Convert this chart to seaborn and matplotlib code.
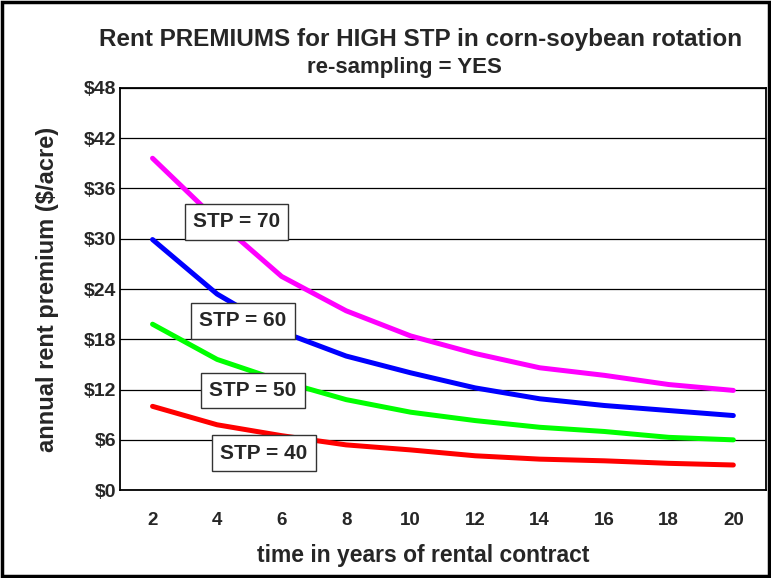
import numpy as np
import pandas as pd
import seaborn as sns
import matplotlib.pyplot as plt
from matplotlib.patches import Rectangle

years = [2, 4, 6, 8, 10, 12, 14, 16, 18, 20]
stp_70 = [39.6, 32.2, 25.5, 21.4, 18.4, 16.3, 14.6, 13.7, 12.6, 11.9]
stp_60 = [29.9, 23.4, 18.9, 16.0, 14.0, 12.2, 10.9, 10.1, 9.5, 8.9]
stp_50 = [19.8, 15.6, 13.0, 10.8, 9.3, 8.3, 7.5, 7.0, 6.3, 6.0]
stp_40 = [10.0, 7.8, 6.5, 5.4, 4.8, 4.1, 3.7, 3.5, 3.2, 3.0]
series_names = ["STP = 70", "STP = 60", "STP = 50", "STP = 40"]
colors = ["#FF00FF", "#0000FF", "#00FF00", "#FF0000"]
label_pos = [(4.6, 32.0), (4.8, 20.2), (5.1, 11.9), (5.45, 4.4)]
y_ticks = [0, 6, 12, 18, 24, 30, 36, 42, 48]

df = pd.DataFrame({
    "year": years * 4,
    "premium": stp_70 + stp_60 + stp_50 + stp_40,
    "series": np.repeat(series_names, len(years)),
})

sns.set_style("white")
plt.rcParams['font.family'] = ['Liberation Sans', 'DejaVu Sans']
plt.rcParams['font.weight'] = 'bold'

fig = plt.figure(figsize=(7.71, 5.78), dpi=100)
ax = fig.add_axes([0.156, 0.152, 0.837, 0.696])

sns.lineplot(data=df, x="year", y="premium", hue="series", palette=colors,
             linewidth=3.6, legend=False, ax=ax, solid_capstyle='round')

ax.set_xlim(1, 21)
ax.set_ylim(0, 48)
ax.set_yticks(y_ticks)
ax.set_yticklabels([f"${v}" for v in y_ticks], fontsize=14, fontweight='bold')
ax.set_xticks(years)
ax.set_xticklabels([str(v) for v in years], fontsize=13.5, fontweight='bold')
ax.yaxis.grid(True, color='black', linewidth=0.9)
ax.set_axisbelow(True)
ax.tick_params(axis='x', direction='in', length=9, width=1, color='#333333', pad=16)
ax.tick_params(axis='y', length=0, pad=3)
for s in ax.spines.values():
    s.set_color('black')
    s.set_linewidth(1.3)

ax.set_xlabel("time in years of rental contract", fontsize=16.5, fontweight='bold')
ax.xaxis.set_label_coords(0.469, -0.135)
ax.set_ylabel("annual rent premium ($/acre)", fontsize=17, fontweight='bold', labelpad=18)

for name, (lx, ly) in zip(series_names, label_pos):
    ax.text(lx, ly, name, fontsize=15, fontweight='bold', ha='center', va='center',
            bbox=dict(boxstyle='square,pad=0.4', facecolor='white', edgecolor='#333333', linewidth=1))

fig.text(0.545, 0.932, "Rent PREMIUMS for HIGH STP in corn-soybean rotation",
         fontsize=17.5, fontweight='bold', ha='center', va='center')
fig.text(0.525, 0.884, "re-sampling = YES", fontsize=16, fontweight='bold', ha='center', va='center')

fig.patches.append(Rectangle((0.003, 0.003), 0.994, 0.994, transform=fig.transFigure,
                             fill=False, edgecolor='black', linewidth=2.5))

fig.savefig("out.png", dpi=100)
